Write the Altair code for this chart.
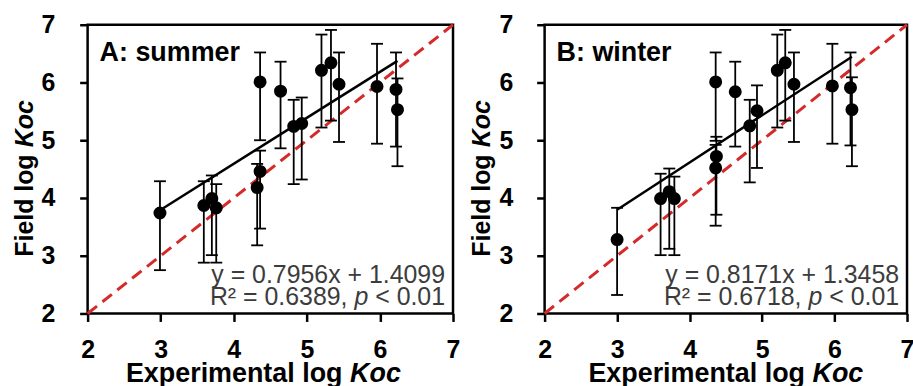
import altair as alt
import pandas as pd

# ---------------- data ----------------
axis_ticks = [2, 3, 4, 5, 6, 7]
identity_line = [2, 7]

summer_exp = [2.99, 3.59, 3.70, 3.76, 4.32, 4.36, 4.36, 4.64, 4.82, 4.93, 5.20, 5.33, 5.44, 5.96, 6.22, 6.24]
summer_field = [3.74, 3.87, 3.99, 3.83, 4.18, 4.46, 6.01, 5.85, 5.24, 5.29, 6.21, 6.34, 5.97, 5.93, 5.88, 5.53]
summer_hi = [4.29, 4.29, 4.39, 4.24, 4.59, 4.82, 6.52, 6.36, 5.70, 5.74, 6.83, 6.91, 6.52, 6.67, 6.52, 6.07]
summer_lo = [2.75, 2.88, 3.01, 2.88, 3.18, 3.47, 5.00, 4.86, 4.24, 4.32, 5.22, 5.34, 4.97, 4.94, 4.89, 4.55]
summer_slope, summer_intercept = 0.7956, 1.4099

winter_exp = [3.00, 3.60, 3.72, 3.79, 4.36, 4.37, 4.36, 4.63, 4.83, 4.93, 5.21, 5.32, 5.44, 5.97, 6.22, 6.24]
winter_field = [3.28, 3.99, 4.11, 3.99, 4.52, 4.72, 6.01, 5.84, 5.25, 5.51, 6.21, 6.34, 5.97, 5.94, 5.91, 5.53]
winter_hi = [3.83, 4.42, 4.51, 4.37, 4.92, 5.06, 6.52, 6.36, 5.70, 5.95, 6.83, 6.91, 6.52, 6.67, 6.52, 6.09]
winter_lo = [2.32, 3.01, 3.12, 3.01, 3.52, 3.71, 4.99, 4.89, 4.27, 4.52, 5.22, 5.34, 4.97, 4.94, 4.91, 4.55]
winter_slope, winter_intercept = 0.8171, 1.3458

FONT = "Liberation Sans"
H = 290


def txt(s, x, y, size, weight="bold", style="normal", align="left", angle=0, color="black"):
    kw = dict(align=align, baseline="alphabetic", fontSize=size, font=FONT,
              fontWeight=weight, fontStyle=style, color=color)
    if angle:
        kw["angle"] = angle
    return alt.Chart(pd.DataFrame({"t": [s]})).mark_text(**kw).encode(
        text="t:N", x=alt.value(x), y=alt.value(y))


def panel(exp, field, hi, lo, slope, intercept, label, eq1, r2, W, ylp, title_center):
    pts = pd.DataFrame({"exp": exp, "field": field, "hi": hi, "lo": lo})
    xs = alt.Scale(domain=[2, 7], nice=False, zero=False)
    ys = alt.Scale(domain=[2, 7], nice=False, zero=False)
    common = dict(values=axis_ticks, title=None, grid=False, domain=False,
                  ticks=True, tickSize=8, tickWidth=2.5, tickColor="black",
                  labelFont=FONT, labelFontSize=25, labelFontWeight="bold",
                  labelColor="black", labelFlush=False, labelOverlap=False,
                  format="d")
    xax = alt.Axis(labelPadding=16, **common)
    yax = alt.Axis(labelPadding=ylp, **common)
    X = lambda f: alt.X(f, type="quantitative", scale=xs, axis=xax)
    Y = lambda f: alt.Y(f, type="quantitative", scale=ys, axis=yax)

    ident = alt.Chart(pd.DataFrame({"exp": identity_line, "field": identity_line})).mark_line(
        color="#d42a2a", strokeWidth=3, strokeDash=[12, 7]).encode(x=X("exp"), y=Y("field"))

    bars = alt.Chart(pts).mark_rule(color="black", strokeWidth=1.8).encode(
        x=X("exp"), y=Y("lo"), y2="hi")
    cap_hi = alt.Chart(pts).mark_tick(orient="horizontal", size=12, thickness=1.8,
                                      color="black", opacity=1).encode(x=X("exp"), y=Y("hi"))
    cap_lo = alt.Chart(pts).mark_tick(orient="horizontal", size=12, thickness=1.8,
                                      color="black", opacity=1).encode(x=X("exp"), y=Y("lo"))
    dots = alt.Chart(pts).mark_circle(size=170, color="black", opacity=1).encode(
        x=X("exp"), y=Y("field"))

    fx = [min(exp), max(exp)]
    fit = alt.Chart(pd.DataFrame({"exp": fx, "field": [slope * v + intercept for v in fx]})).mark_line(
        color="black", strokeWidth=2.5).encode(x=X("exp"), y=Y("field"))

    texts = [
        txt(label, 12, 36, 27),
        txt(eq1, W - 8, 259, 25, weight="normal", align="right", color="#3c3c3c"),
        txt("< 0.01", W - 8, 281, 25, weight="normal", align="right", color="#3c3c3c"),
        txt("p", W - 8 - 77, 281, 25, weight="normal", style="italic", align="right", color="#3c3c3c"),
        txt(r2, W - 8 - 98, 281, 25, weight="normal", align="right", color="#3c3c3c"),
        # y title
        txt("Field log", -55, 233, 25, angle=270),
        txt("Koc", -55, 123, 25, style="italic", angle=270),
        # x title
        txt("Experimental log", title_center - 138, 359, 27),
        txt("Koc", title_center - 138 + 225.1, 359, 27, style="italic"),
    ]
    return alt.layer(ident, bars, cap_hi, cap_lo, fit, dots, *texts).properties(width=W, height=H)


a = panel(summer_exp, summer_field, summer_hi, summer_lo, summer_slope, summer_intercept,
          "A: summer", "y = 0.7956x + 1.4099", "R² = 0.6389,", 367, 25, 176.5)
b = panel(winter_exp, winter_field, winter_hi, winter_lo, winter_slope, winter_intercept,
          "B: winter", "y = 0.8171x + 1.3458", "R² = 0.6718,", 364, 24, 182)

chart = alt.hconcat(a, b, spacing=92, bounds="flush").properties(
    padding={"left": 11, "top": 10, "right": -3, "bottom": -3},
    background="white",
).configure_view(stroke="black", strokeWidth=2.5)

chart.save("out.html", embed_options={"renderer": "svg", "actions": False})
